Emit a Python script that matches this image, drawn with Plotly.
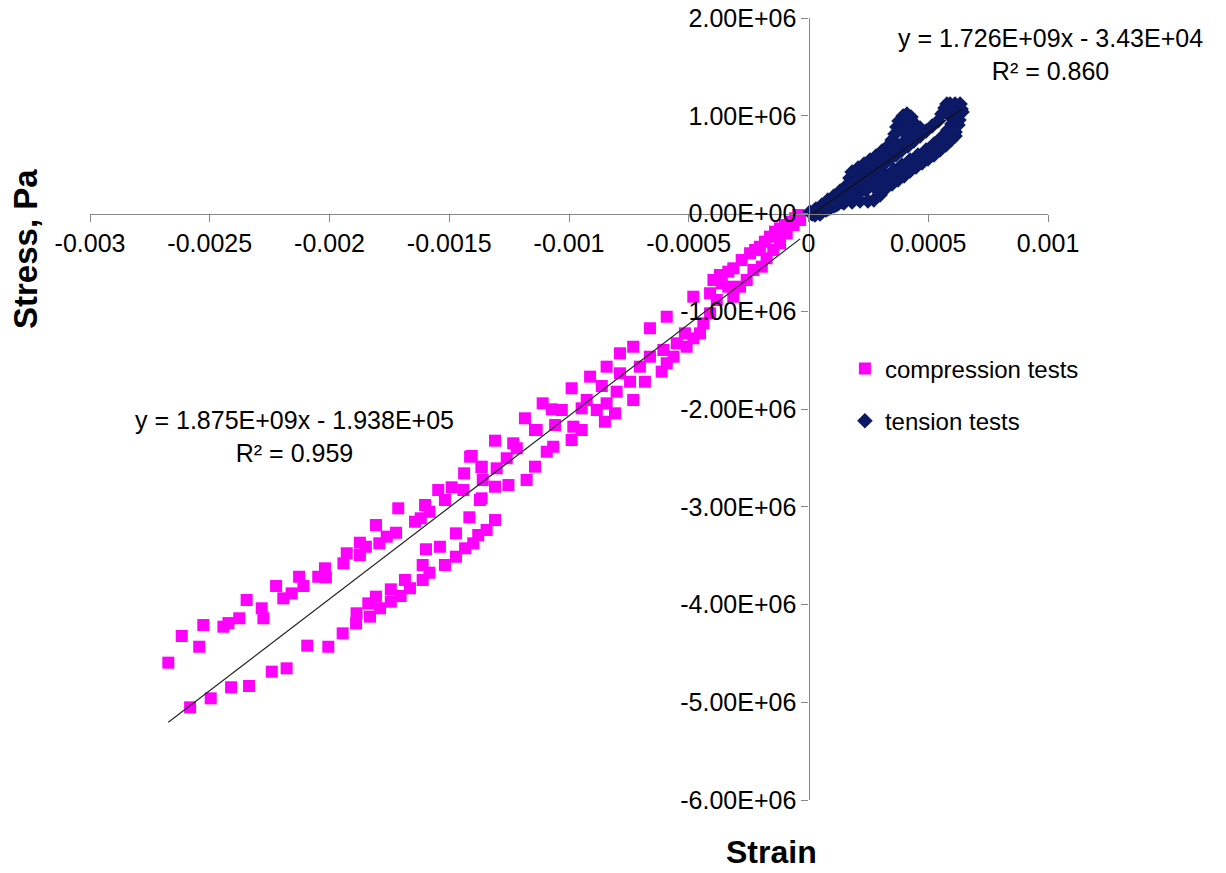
import plotly.graph_objects as go

# ---------------- data ----------------
comp_strain = [
    -0.002673, -0.002617, -0.002544, -0.002527, -0.002443, -0.002422, -0.002377, -0.002346,
    -0.002283, -0.002276, -0.002223, -0.002193, -0.002158, -0.002127, -0.002109, -0.002047,
    -0.002019, -0.002015, -0.001942, -0.001928, -0.001873, -0.001873, -0.001848, -0.001806,
    -0.001792, -0.001761, -0.001722, -0.001713, -0.001643, -0.001619, -0.001601, -0.001583,
    -0.001546, -0.001518, -0.001490, -0.001441, -0.001438, -0.001406, -0.001365, -0.001360,
    -0.001309, -0.001233, -0.001184, -0.001142, -0.001110, -0.001072, -0.001030, -0.000989,
    -0.000912, -0.000863, -0.000843, -0.000787, -0.000732, -0.000662, -0.000592, -0.000481,
    -0.000411, -0.000397, -0.000370, -0.000335, -0.000314, -0.000279, -0.000244, -0.000223,
    -0.000203, -0.000182, -0.000161, -0.000140, -0.000119, -0.000098, -0.000077, -0.000056,
    -0.000043,
    # lower branch
    -0.002582, -0.002496, -0.002411, -0.002336, -0.002241, -0.002179, -0.002093, -0.002005,
    -0.001945, -0.001889, -0.001887, -0.001838, -0.001831, -0.001806, -0.001789, -0.001744,
    -0.001744, -0.001703, -0.001685, -0.001664, -0.001611, -0.001611, -0.001583, -0.001597,
    -0.001539, -0.001518, -0.001472, -0.001472, -0.001434, -0.001416, -0.001400, -0.001379,
    -0.001344, -0.001309, -0.001365, -0.001413, -0.001365, -0.001372, -0.001302, -0.001260,
    -0.001309, -0.001253, -0.001218, -0.001177, -0.001142, -0.001135, -0.001093, -0.001066,
    -0.001058, -0.000989, -0.000982, -0.000947, -0.000947, -0.000926, -0.000884, -0.000843,
    -0.000850, -0.000808, -0.000801, -0.000787, -0.000745, -0.000732, -0.000704, -0.000683,
    -0.000662, -0.000613, -0.000606, -0.000592, -0.000564, -0.000550, -0.000516, -0.000509,
    -0.000481, -0.000453, -0.000439, -0.000411, -0.000383, -0.000362, -0.000335, -0.000314,
    -0.000286, -0.000258, -0.000230, -0.000195, -0.000175, -0.000147, -0.000119, -0.000091,
    -0.000063, -0.000035,
]
comp_stress = [
    -4.595e6, -4.322e6, -4.432e6, -4.210e6, -4.227e6, -4.190e6, -4.141e6, -3.954e6,
    -4.039e6, -4.141e6, -3.811e6, -3.937e6, -3.886e6, -3.716e6, -3.811e6, -3.716e6,
    -3.630e6, -3.722e6, -3.579e6, -3.476e6, -3.368e6, -3.494e6, -3.409e6, -3.187e6,
    -3.374e6, -3.306e6, -3.266e6, -3.016e6, -3.153e6, -3.118e6, -2.982e6, -3.051e6,
    -2.829e6, -2.931e6, -2.801e6, -2.829e6, -2.658e6, -2.481e6, -2.597e6, -2.726e6,
    -2.324e6, -2.351e6, -2.095e6, -2.215e6, -1.942e6, -2.003e6, -2.010e6, -1.788e6,
    -1.669e6, -1.765e6, -1.567e6, -1.430e6, -1.363e6, -1.174e6, -1.056e6, -0.851e6,
    -0.816e6, -0.680e6, -0.629e6, -0.595e6, -0.561e6, -0.476e6, -0.407e6, -0.373e6,
    -0.340e6, -0.288e6, -0.237e6, -0.186e6, -0.152e6, -0.118e6, -0.084e6, -0.049e6,
    -0.015e6,
    # lower branch
    -5.052e6, -4.960e6, -4.847e6, -4.834e6, -4.687e6, -4.653e6, -4.421e6, -4.432e6,
    -4.295e6, -4.193e6, -4.090e6, -3.988e6, -4.124e6, -3.920e6, -4.039e6, -3.845e6,
    -3.971e6, -3.913e6, -3.749e6, -3.834e6, -3.596e6, -3.749e6, -3.675e6, -3.435e6,
    -3.409e6, -3.596e6, -3.272e6, -3.511e6, -3.425e6, -3.108e6, -3.374e6, -3.289e6,
    -3.238e6, -3.136e6, -2.914e6, -2.488e6, -2.590e6, -2.931e6, -2.607e6, -2.504e6,
    -2.795e6, -2.778e6, -2.402e6, -2.726e6, -2.590e6, -2.215e6, -2.437e6, -2.386e6,
    -2.164e6, -2.317e6, -2.181e6, -2.215e6, -1.993e6, -1.908e6, -2.010e6, -1.942e6,
    -2.130e6, -2.044e6, -1.823e6, -1.635e6, -1.721e6, -1.908e6, -1.567e6, -1.721e6,
    -1.465e6, -1.618e6, -1.396e6, -1.532e6, -1.465e6, -1.328e6, -1.226e6, -1.363e6,
    -1.277e6, -1.226e6, -1.123e6, -1.021e6, -0.885e6, -0.714e6, -0.749e6, -0.851e6,
    -0.749e6, -0.680e6, -0.578e6, -0.544e6, -0.458e6, -0.373e6, -0.305e6, -0.203e6,
    -0.118e6, -0.066e6,
]

# tension tests (microstrain, kPa)
tens_ustrain = [
    6, 31, 56, 81, 106, 132, 157, 173, 182, 207, 232, 257, 282, 307, 332, 349, 361, 369,
    378, 395, 411, 428, 436, 420, 399,
    15, 40, 65, 90, 115, 140, 165, 190, 215, 240, 265, 290, 315, 340, 365, 390, 415, 440,
    466, 491, 516, 541, 557, 570, 578, 599, 620, 637, 624,
    27, 56, 90, 123, 157, 190, 223, 257, 290, 324, 357, 390, 424, 457, 491, 524, 557, 582,
    599, 616, 624, 612,
    48, 81, 115, 148, 182, 215, 248, 273, 299, 324, 349, 374, 399, 424, 449, 474, 499, 524,
    549, 574, 595, 612,
    223, 257, 290, 324, 357, 382, 407, 432, 457,
    23, 48, 73, 98, 123, 148, 173, 198, 223, 248, 273, 299, 324, 349, 374, 399, 424, 449, 466,
    73, 106, 140, 173, 207, 240, 273, 307, 340, 374, 407, 440, 474, 507, 541, 566, 591, 603, 624,
    566, 591, 612, 633, 641, 628, 591, 607,
    382, 403, 424, 407, 390,
]
tens_kpa = [
    15, 46, 87, 138, 179, 230, 281, 363, 425, 465, 506, 547, 588, 639, 691, 752, 813, 885,
    946, 997, 1018, 987, 936, 885, 844,
    -5, 26, 66, 107, 148, 189, 230, 281, 332, 373, 425, 465, 506, 558, 598, 650, 691, 742,
    793, 844, 895, 946, 1018, 1079, 1120, 1090, 1059, 1069, 1008,
    -15, 15, 56, 97, 138, 189, 240, 292, 343, 394, 445, 496, 547, 598, 650, 711, 783, 854,
    916, 977, 905, 834,
    -5, 46, 87, 107, 118, 128, 128, 138, 189, 261, 302, 343, 384, 435, 476, 517, 558, 598,
    650, 701, 752, 793,
    425, 486, 527, 568, 629, 691, 752, 793, 824,
    26, 56, 97, 138, 179, 230, 281, 343, 384, 435, 486, 537, 578, 629, 691, 731, 783, 824, 875,
    36, 77, 118, 159, 199, 240, 271, 312, 363, 414, 465, 517, 568, 629, 691, 742, 813, 875, 957,
    1038, 1120, 1120, 1120, 1038, 957, 997, 1038,
    905, 957, 957, 905, 854,
]
tens_strain = [v * 1e-6 for v in tens_ustrain]
tens_stress = [v * 1e3 for v in tens_kpa]

# linear fits reported on the chart
comp_slope, comp_intercept = 1.875e9, -1.938e5
tens_slope, tens_intercept = 1.726e9, -3.43e4

x_tickvals = [-0.003, -0.0025, -0.002, -0.0015, -0.001, -0.0005, 0, 0.0005, 0.001]
x_ticktext = ["-0.003", "-0.0025", "-0.002", "-0.0015", "-0.001", "-0.0005", "0", "0.0005", "0.001"]
y_tickvals = [2e6, 1e6, 0, -1e6, -2e6, -3e6, -4e6, -5e6, -6e6]
y_ticktext = ["2.00E+06", "1.00E+06", "0.00E+00", "-1.00E+06", "-2.00E+06",
              "-3.00E+06", "-4.00E+06", "-5.00E+06", "-6.00E+06"]

FONT = "Liberation Sans, Arial, sans-serif"

fig = go.Figure()

fig.add_trace(go.Scatter(
    x=comp_strain, y=comp_stress, mode="markers", name="compression tests",
    legendgroup="comp",
    marker=dict(symbol="square", size=12, color="#FF00FF"),
))
fig.add_trace(go.Scatter(
    x=tens_strain, y=tens_stress, mode="markers", name="tension tests",
    legendgroup="tens",
    marker=dict(symbol="diamond", size=12, color="#0C1A66"),
))

cx = [min(comp_strain), max(comp_strain)]
fig.add_trace(go.Scatter(
    x=cx, y=[comp_slope * v + comp_intercept for v in cx], mode="lines",
    line=dict(color="#222222", width=1.2), showlegend=False, hoverinfo="skip",
))
tx = [min(tens_strain), max(tens_strain)]
fig.add_trace(go.Scatter(
    x=tx, y=[tens_slope * v + tens_intercept for v in tx], mode="lines",
    line=dict(color="#111111", width=1.2), showlegend=False, hoverinfo="skip",
))

axis_common = dict(
    showgrid=False, zeroline=False, showline=True, linecolor="#868686", linewidth=1.3,
    ticks="outside", ticklen=7, tickcolor="#868686", tickwidth=1.3, automargin=False,
    ticklabeloverflow="allow",
    tickfont=dict(family=FONT, size=25, color="#000000"),
)

# plot area spans x 90..1048, y 18..800 (page body margin removed below)
fig.update_layout(
    width=1226, height=873,
    margin=dict(l=90, r=178, t=18, b=73),
    paper_bgcolor="white", plot_bgcolor="white",
    font=dict(family=FONT, size=25, color="#000000"),
    xaxis=dict(range=[-0.003, 0.001], tickvals=x_tickvals, ticktext=x_ticktext,
               anchor="free", position=0.75, **axis_common),
    yaxis=dict(range=[-6e6, 2e6], tickvals=y_tickvals, ticktext=y_ticktext,
               anchor="free", position=0.75, **axis_common),
    legend=dict(x=0.788, y=0.580, xanchor="left", yanchor="top",
                font=dict(family=FONT, size=24, color="#000000"),
                bgcolor="rgba(0,0,0,0)", tracegroupgap=18, traceorder="grouped",
                itemwidth=30),
    showlegend=True,
)

annotations = [
    dict(text="y = 1.726E+09x - 3.43E+04<br>R² = 0.860", x=1050, y=54),
    dict(text="y = 1.875E+09x - 1.938E+05<br>R² = 0.959", x=294, y=437),
]
# place labels (given in screen pixels) in paper coordinates of the plot area
for a in annotations:
    px, py = a["x"], a["y"]
    a["x"] = (px - 90) / 958
    a["y"] = 1 - (py - 18) / 782
    a.update(xref="paper", yref="paper", showarrow=False, xanchor="center",
             yanchor="middle", align="center",
             font=dict(family=FONT, size=25, color="#000000"))

annotations.append(dict(text="<b>Strain</b>", x=(771 - 90) / 958, y=1 - (852 - 18) / 782,
                        xref="paper", yref="paper", showarrow=False,
                        xanchor="center", yanchor="middle",
                        font=dict(family=FONT, size=32, color="#000000")))
annotations.append(dict(text="<b>Stress, Pa</b>", x=(25 - 90) / 958, y=1 - (249 - 18) / 782,
                        xref="paper", yref="paper", showarrow=False, textangle=-90,
                        xanchor="center", yanchor="middle",
                        font=dict(family=FONT, size=33, color="#000000")))
fig.update_layout(annotations=annotations)

fig.write_html("out.html", config={"displayModeBar": False},
               post_script="document.body.style.margin='0';")
